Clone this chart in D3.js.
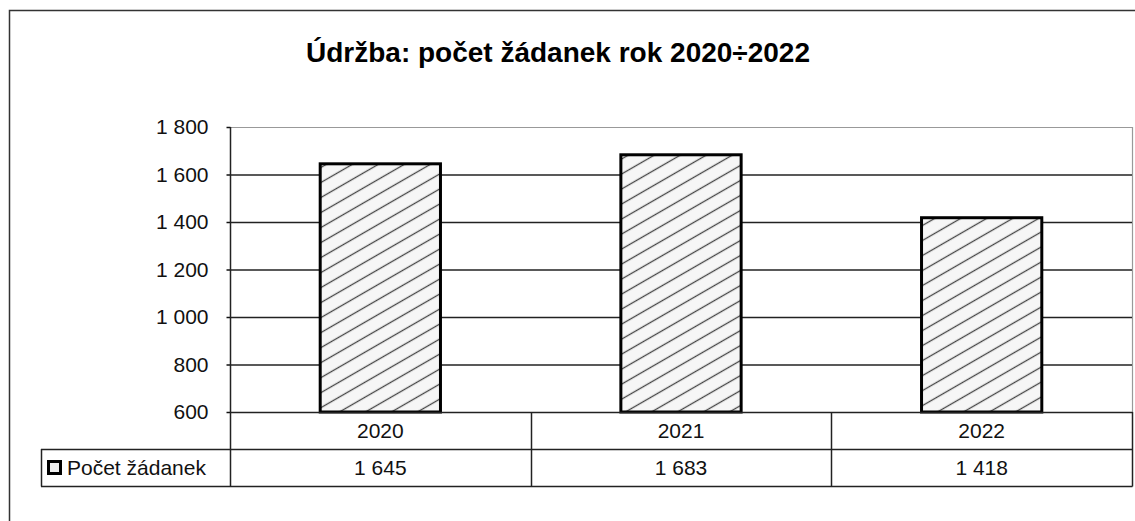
<!DOCTYPE html>
<html>
<head>
<meta charset="utf-8">
<script src="https://cdn.jsdelivr.net/npm/d3@7"></script>
<style>
body { margin: 0; background: #fff; }
text { font-family: "Liberation Sans", Arial, sans-serif; fill: #111; }
</style>
</head>
<body>
<script>
// data
var years = ["2020", "2021", "2022"];
var values = [1645, 1683, 1418];
var yTicks = [600, 800, 1000, 1200, 1400, 1600, 1800];
var seriesName = "Počet žádanek";
var title = "Údržba: počet žádanek rok 2020÷2022";

var w = 1135;
var h = 521;

function fmt(v) {
  // czech thousands with space
  var s = String(v);
  if (s.length > 3) s = s.slice(0, s.length - 3) + " " + s.slice(s.length - 3);
  return s;
}

var svg = d3.select("body")
  .append("svg")
  .attr("width", w)
  .attr("height", h);

var defs = svg.append("defs");
var pat = defs.append("pattern")
  .attr("id", "hatch")
  .attr("patternUnits", "userSpaceOnUse")
  .attr("width", 10)
  .attr("height", 13)
  .attr("patternTransform", "rotate(-30)");
pat.append("rect").attr("width", 10).attr("height", 13).attr("fill", "#f6f6f6");
pat.append("line")
  .attr("x1", 0).attr("x2", 10)
  .attr("y1", 6.5).attr("y2", 6.5)
  .attr("stroke", "#444")
  .attr("stroke-width", 1.3);

// outer chart border (only top + left visible)
svg.append("path")
  .attr("d", "M9.5," + h + "V10.5H" + w)
  .attr("fill", "none")
  .attr("stroke", "#333")
  .attr("stroke-width", 1.5);

var pL = 230, pR = 1132, pT = 127, pB = 412;
var row1 = 449, row2 = 486, legLeft = 41;

var x = d3.scaleBand()
  .domain(years)
  .range([pL, pR])
  .paddingInner(0.6)
  .paddingOuter(0.3);

var y = d3.scaleLinear()
  .domain([600, 1800])
  .range([pB, pT]);

// title
svg.append("text")
  .attr("x", 558)
  .attr("y", 62)
  .attr("text-anchor", "middle")
  .style("font-size", "28px")
  .style("font-weight", "bold")
  .style("fill", "#000")
  .text(title);

// plot border top/right (light)
svg.append("path")
  .attr("d", "M" + pL + "," + (pT + 0.5) + "H" + (pR + 0.5) + "V" + pB)
  .attr("fill", "none")
  .attr("stroke", "#999")
  .attr("stroke-width", 1.2);

// gridlines
svg.selectAll("line.grid")
  .data(yTicks.filter(function(d) { return d > 600 && d < 1800; }))
  .enter()
  .append("line")
  .attr("class", "grid")
  .attr("x1", pL).attr("x2", pR)
  .attr("y1", function(d) { return y(d) + 0.5; })
  .attr("y2", function(d) { return y(d) + 0.5; })
  .attr("stroke", "#222")
  .attr("stroke-width", 1.5);

// y axis
var yAxis = d3.axisLeft(y)
  .tickValues(yTicks)
  .tickSize(4)
  .tickPadding(18)
  .tickFormat(fmt);
var ga = svg.append("g")
  .attr("transform", "translate(" + (pL + 0.5) + ",0)")
  .call(yAxis);
ga.select(".domain").remove();
ga.selectAll("line").attr("stroke", "#111").attr("stroke-width", 1.5);
ga.selectAll("text")
  .style("font-size", "21px")
  .style("font-family", "'Liberation Sans', Arial, sans-serif")
  .attr("fill", "#222");

// bars
svg.selectAll("rect.bar")
  .data(values)
  .enter()
  .append("rect")
  .attr("class", "bar")
  .attr("x", function(d, i) { return x(years[i]); })
  .attr("y", function(d) { return y(d); })
  .attr("width", x.bandwidth())
  .attr("height", function(d) { return pB - y(d); })
  .attr("fill", "url(#hatch)")
  .attr("stroke", "#000")
  .attr("stroke-width", 3);

// data table lines
var lines = svg.append("g").attr("stroke", "#222").attr("stroke-width", 1.5).attr("fill", "none");
lines.append("path").attr("d", "M" + (pL + 0.5) + "," + pT + "V" + (row2 + 0.5));
lines.append("path").attr("d", "M" + pL + "," + (pB + 0.5) + "H" + (pR + 0.5));
lines.append("path").attr("d", "M" + legLeft + "," + (row1 + 0.5) + "H" + (pR + 0.5));
lines.append("path").attr("d", "M" + legLeft + "," + (row2 + 0.5) + "H" + (pR + 0.5));
lines.append("path").attr("d", "M" + (legLeft + 0.5) + "," + row1 + "V" + (row2 + 0.5));
lines.append("path").attr("d", "M" + (pR + 0.5) + "," + pB + "V" + (row2 + 0.5));
lines.selectAll("path.sep")
  .data(years.slice(1))
  .enter()
  .append("path")
  .attr("class", "sep")
  .attr("d", function(d) {
    var xx = Math.round(x(d) - (x.step() - x.bandwidth()) / 2) + 0.5;
    return "M" + xx + "," + pB + "V" + (row2 + 0.5);
  });

// table texts
svg.selectAll("text.yr")
  .data(years)
  .enter()
  .append("text")
  .attr("class", "yr")
  .attr("x", function(d) { return x(d) + x.bandwidth() / 2; })
  .attr("y", 438)
  .attr("text-anchor", "middle")
  .style("font-size", "21px")
  .text(function(d) { return d; });

svg.selectAll("text.val")
  .data(values)
  .enter()
  .append("text")
  .attr("class", "val")
  .attr("x", function(d, i) { return x(years[i]) + x.bandwidth() / 2; })
  .attr("y", 475)
  .attr("text-anchor", "middle")
  .style("font-size", "21px")
  .text(function(d) { return fmt(d); });

// legend key + name
svg.append("rect")
  .attr("x", 48.5).attr("y", 461.5)
  .attr("width", 12).attr("height", 12)
  .attr("fill", "#eee")
  .attr("stroke", "#000")
  .attr("stroke-width", 3);
svg.append("text")
  .attr("x", 67)
  .attr("y", 475)
  .style("font-size", "21px")
  .text(seriesName);
</script>
</body>
</html>
